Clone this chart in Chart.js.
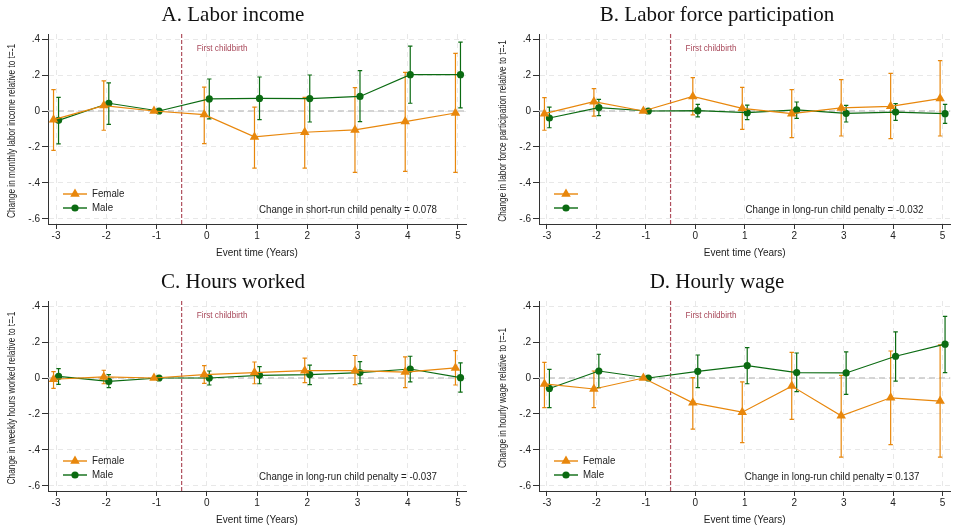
<!DOCTYPE html>
<html>
<head>
<meta charset="utf-8">
<script src="https://cdn.jsdelivr.net/npm/chart.js@4.4.0/dist/chart.umd.min.js"></script>
<style>
  html, body { margin: 0; padding: 0; background: #fff; overflow: hidden; }
  #wrap { position: relative; width: 956px; height: 528px; overflow: hidden; background: #fff; }
  .panel { position: absolute; width: 478px; height: 264px; }
</style>
</head>
<body>
<div id="wrap">
  <div class="panel" style="left:0;top:0"><canvas id="chartA" width="478" height="264"></canvas></div>
  <div class="panel" style="left:478px;top:0"><canvas id="chartB" width="478" height="264"></canvas></div>
  <div class="panel" style="left:0;top:267px"><canvas id="chartC" width="478" height="264"></canvas></div>
  <div class="panel" style="left:478px;top:267px"><canvas id="chartD" width="478" height="264"></canvas></div>
</div>
<script>
// x axis: event time, y axis ticks
const eventTime = [-3, -2, -1, 0, 1, 2, 3, 4, 5];
const yTicks = [-0.6, -0.4, -0.2, 0, 0.2, 0.4];
const legendLabels = ['Female', 'Male'];

// A. Labor income
const incomeF   = [-0.048, 0.030, 0, -0.020, -0.144, -0.118, -0.105, -0.059, -0.011];
const incomeFLo = [-0.219, -0.107, 0, -0.181, -0.318, -0.318, -0.341, -0.335, -0.341];
const incomeFHi = [0.119, 0.167, 0, 0.133, 0.022, 0.076, 0.130, 0.215, 0.320];
const incomeM   = [-0.052, 0.043, 0, 0.067, 0.070, 0.069, 0.081, 0.202, 0.202];
const incomeMLo = [-0.183, -0.074, 0, -0.044, -0.048, -0.061, -0.059, 0.043, 0.017];
const incomeMHi = [0.076, 0.156, 0, 0.178, 0.189, 0.200, 0.224, 0.361, 0.383];

// B. Labor force participation
const partF   = [-0.015, 0.052, 0, 0.081, 0.015, -0.015, 0.017, 0.026, 0.069];
const partFLo = [-0.107, -0.028, 0, -0.022, -0.102, -0.148, -0.139, -0.154, -0.139];
const partFHi = [0.074, 0.124, 0, 0.185, 0.131, 0.119, 0.174, 0.209, 0.280];
const partM   = [-0.039, 0.019, 0, 0.002, -0.009, 0.006, -0.013, -0.006, -0.015];
const partMLo = [-0.093, -0.026, 0, -0.033, -0.048, -0.041, -0.061, -0.052, -0.069];
const partMHi = [0.022, 0.065, 0, 0.037, 0.033, 0.050, 0.031, 0.041, 0.037];

// C. Hours worked
const hoursF   = [-0.007, 0.006, 0, 0.019, 0.030, 0.041, 0.041, 0.033, 0.056];
const hoursFLo = [-0.058, -0.032, 0, -0.030, -0.032, -0.026, -0.037, -0.054, -0.039];
const hoursFHi = [0.035, 0.043, 0, 0.069, 0.089, 0.110, 0.125, 0.117, 0.152];
const hoursM   = [0.009, -0.019, 0, 0.000, 0.015, 0.019, 0.030, 0.050, 0.002];
const hoursMLo = [-0.035, -0.054, 0, -0.039, -0.032, -0.037, -0.032, -0.022, -0.078];
const hoursMHi = [0.052, 0.019, 0, 0.039, 0.063, 0.072, 0.091, 0.121, 0.084];

// D. Hourly wage
const wageF   = [-0.033, -0.061, 0, -0.138, -0.190, -0.045, -0.210, -0.110, -0.128];
const wageFLo = [-0.165, -0.165, 0, -0.284, -0.359, -0.230, -0.440, -0.370, -0.440];
const wageFHi = [0.087, 0.039, 0, 0.002, -0.022, 0.143, 0.015, 0.150, 0.184];
const wageM   = [-0.058, 0.039, 0, 0.037, 0.069, 0.030, 0.028, 0.121, 0.188];
const wageMLo = [-0.165, -0.054, 0, -0.054, -0.032, -0.076, -0.091, -0.017, 0.030];
const wageMHi = [0.048, 0.132, 0, 0.128, 0.169, 0.139, 0.145, 0.256, 0.342];

const FEMALE = '#e8870c';
const MALE = '#0b6b12';
const childbirthAt = -0.5;

function tickLabel(v) {
  const r = Math.round(v * 10) / 10;
  if (r === 0) return '0';
  return (r < 0 ? '-' : '') + Math.abs(r).toFixed(1).replace(/^0/, '');
}

function squeezed(ctx, text, x, y, size, squeeze, align, rotate) {
  ctx.save();
  ctx.translate(x, y);
  if (rotate) ctx.rotate(-Math.PI / 2);
  ctx.scale(squeeze, 1);
  ctx.font = size + 'px "Liberation Sans", Arial, sans-serif';
  ctx.textAlign = align;
  ctx.textBaseline = 'middle';
  ctx.fillText(text, 0, 0);
  ctx.restore();
}

// reference lines + error bars under the markers
const errorBarPlugin = {
  id: 'errorBars',
  beforeDatasetsDraw(chart) {
    const { ctx, chartArea: a, scales: { x, y } } = chart;
    ctx.save();
    ctx.beginPath();
    ctx.rect(a.left, a.top, a.right - a.left, a.bottom - a.top);
    ctx.clip();

    // zero line
    ctx.strokeStyle = '#c8c8c8';
    ctx.lineWidth = 1.5;
    ctx.setLineDash([6, 4]);
    ctx.beginPath();
    ctx.moveTo(a.left, y.getPixelForValue(0));
    ctx.lineTo(a.right, y.getPixelForValue(0));
    ctx.stroke();

    // first childbirth line
    const xc = x.getPixelForValue(childbirthAt);
    ctx.strokeStyle = '#b0505e';
    ctx.lineWidth = 1.2;
    ctx.setLineDash([4, 2]);
    ctx.beginPath();
    ctx.moveTo(xc, a.top);
    ctx.lineTo(xc, a.bottom);
    ctx.stroke();
    ctx.setLineDash([]);

    chart.data.datasets.forEach(ds => {
      ctx.strokeStyle = ds.borderColor;
      ctx.lineWidth = 1.2;
      ds.data.forEach((p, i) => {
        const lo = ds.errLo[i], hi = ds.errHi[i];
        if (lo === hi) return;
        const px = x.getPixelForValue(p.x);
        const y1 = y.getPixelForValue(lo), y2 = y.getPixelForValue(hi);
        ctx.beginPath();
        ctx.moveTo(px, y1); ctx.lineTo(px, y2);
        ctx.moveTo(px - 2.2, y1); ctx.lineTo(px + 2.2, y1);
        ctx.moveTo(px - 2.2, y2); ctx.lineTo(px + 2.2, y2);
        ctx.stroke();
      });
    });
    ctx.restore();
  },
  afterDraw(chart) {
    const { ctx, chartArea: a, scales: { x } } = chart;
    const o = chart.options.plugins.errorBars;
    ctx.save();
    // first childbirth label
    ctx.fillStyle = '#a8485a';
    ctx.font = '8.2px "Liberation Sans", Arial, sans-serif';
    ctx.textAlign = 'left';
    ctx.textBaseline = 'middle';
    ctx.fillText('First childbirth', x.getPixelForValue(childbirthAt) + 15, a.top + 15);

    // y axis title
    ctx.fillStyle = '#222';
    squeezed(ctx, o.yTitle, a.left - 36, (a.top + a.bottom) / 2 + 2, 10, 0.83, 'center', true);

    // note
    squeezed(ctx, o.note, a.right - o.noteRight, a.top + 176, 10.8, 0.9, 'right', false);

    // legend
    chart.data.datasets.forEach((ds, i) => {
      const ly = a.top + 160 + i * 14;
      const lx = a.left + 15;
      ctx.strokeStyle = ds.borderColor;
      ctx.lineWidth = 1.4;
      ctx.beginPath();
      ctx.moveTo(lx, ly); ctx.lineTo(lx + 24, ly);
      ctx.stroke();
      ctx.fillStyle = ds.pointBackgroundColor;
      Chart.helpers.drawPoint(ctx, { pointStyle: ds.pointStyle, radius: ds.pointRadius, rotation: 0, borderWidth: 0 }, lx + 12, ly);
      if (o.legend[i]) {
        ctx.fillStyle = '#222';
        squeezed(ctx, o.legend[i], lx + 29, ly, 10.8, 0.9, 'left', false);
      }
    });
    ctx.restore();
  }
};

function makeDataset(label, vals, lo, hi, color, style, radius, shift) {
  return {
    label: label,
    data: eventTime.map((t, i) => ({ x: t + shift, y: vals[i] })),
    errLo: lo,
    errHi: hi,
    borderColor: color,
    backgroundColor: color,
    pointBackgroundColor: color,
    pointBorderWidth: 0,
    pointStyle: style,
    pointRadius: radius,
    borderWidth: 1.2,
    tension: 0,
    fill: false
  };
}

function makeChart(id, title, yTitle, note, noteRight, legend, f, fLo, fHi, m, mLo, mHi, yWidth, padRight) {
  return new Chart(document.getElementById(id), {
    type: 'line',
    data: {
      datasets: [
        makeDataset('Female', f, fLo, fHi, FEMALE, 'triangle', 5.5, -0.05),
        makeDataset('Male', m, mLo, mHi, MALE, 'circle', 3.6, 0.05)
      ]
    },
    options: {
      responsive: false,
      animation: false,
      events: [],
      layout: { padding: { left: 0, right: padRight, top: 0, bottom: 0 } },
      plugins: {
        legend: { display: false },
        tooltip: { enabled: false },
        title: {
          display: true,
          text: title,
          color: '#111',
          font: { family: '"Liberation Serif", "Times New Roman", serif', size: 21, weight: 'normal' },
          padding: { top: 2.5, bottom: 6.3 }
        },
        errorBars: { yTitle: yTitle, note: note, noteRight: noteRight, legend: legend }
      },
      scales: {
        x: {
          type: 'linear',
          min: -3.16,
          max: 5.16,
          afterBuildTicks: s => { s.ticks = eventTime.map(v => ({ value: v })); },
          afterFit: s => { s.height = 40; },
          ticks: { color: '#222', font: { size: 10, family: '"Liberation Sans", Arial, sans-serif' }, padding: 1, maxRotation: 0 },
          grid: { color: '#e8e8e8', tickColor: '#333', tickLength: 5, lineWidth: 1 },
          border: { display: true, color: '#333', width: 1, dash: [5, 4] },
          title: {
            display: true,
            text: 'Event time (Years)',
            color: '#222',
            font: { size: 10, family: '"Liberation Sans", Arial, sans-serif' },
            padding: { top: 0, bottom: 5 }
          }
        },
        y: {
          type: 'linear',
          min: -0.628,
          max: 0.428,
          afterBuildTicks: s => { s.ticks = yTicks.map(v => ({ value: v })); },
          afterFit: s => { s.width = yWidth; },
          ticks: { color: '#222', font: { size: 10, family: '"Liberation Sans", Arial, sans-serif' }, padding: 2, callback: v => tickLabel(v) },
          grid: { color: '#e8e8e8', tickColor: '#333', tickLength: 6, lineWidth: 1 },
          border: { display: true, color: '#333', width: 1, dash: [5, 4] }
        }
      }
    },
    plugins: [errorBarPlugin]
  });
}

makeChart('chartA', 'A. Labor income', 'Change in monthly labor income relative to t=-1',
  'Change in short-run child penalty = 0.078', 29, legendLabels,
  incomeF, incomeFLo, incomeFHi, incomeM, incomeMLo, incomeMHi, 48, 12);
makeChart('chartB', 'B. Labor force participation', 'Change in labor force participation relative to t=-1',
  'Change in long-run child penalty = -0.032', 27, ['', ''],
  partF, partFLo, partFHi, partM, partMLo, partMHi, 61, 0);
makeChart('chartC', 'C. Hours worked', 'Change in weekly hours worked relative to t=-1',
  'Change in long-run child penalty = -0.037', 29, legendLabels,
  hoursF, hoursFLo, hoursFHi, hoursM, hoursMLo, hoursMHi, 48, 12);
makeChart('chartD', 'D. Hourly wage', 'Change in hourly wage relative to t=-1',
  'Change in long-run child penalty = 0.137', 31, legendLabels,
  wageF, wageFLo, wageFHi, wageM, wageMLo, wageMHi, 61, 0);
</script>
</body>
</html>
